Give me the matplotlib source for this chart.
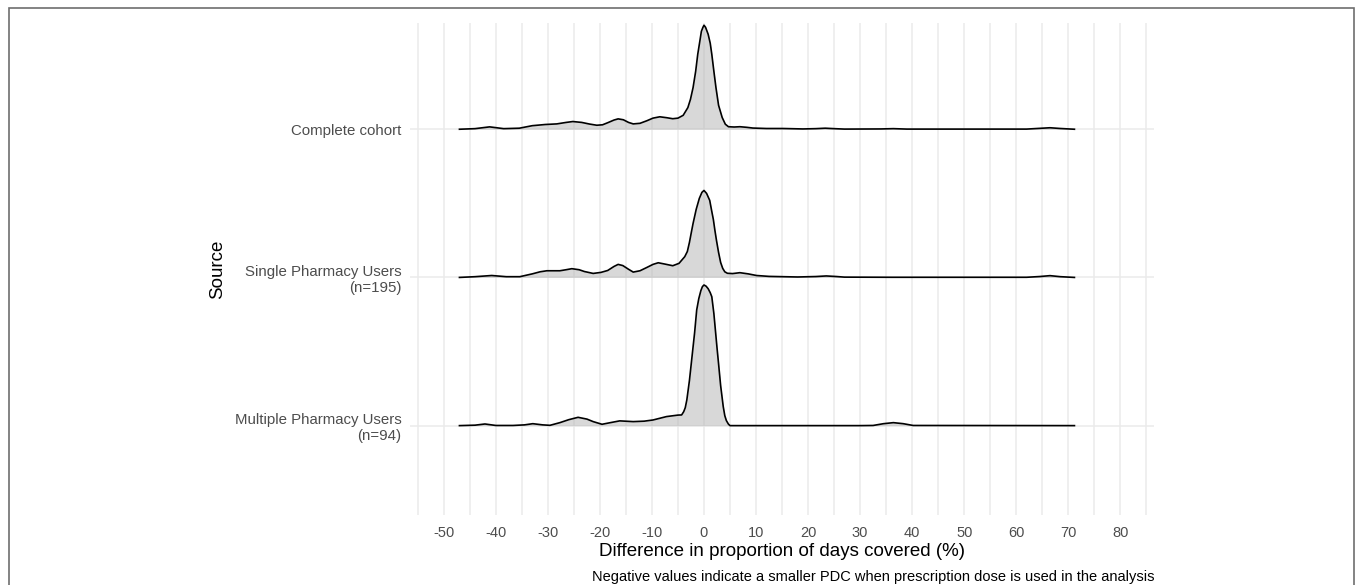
import matplotlib.pyplot as plt
from matplotlib.patches import Rectangle

plt.rcParams['font.family'] = ['Liberation Sans', 'DejaVu Sans']
plt.rcParams['axes.unicode_minus'] = False

# ridge labels, bottom to top
labels = ['Multiple Pharmacy Users\n(n=94)', 'Single Pharmacy Users\n(n=195)', 'Complete cohort']

# density outlines (x in %, height in row units)
complete_x = [-47, -44, -41.2, -38.5, -35.5, -33, -30.5, -28.3, -26.5, -25.2, -23.5, -22, -20.6, -19.5,
              -18.5, -17.3, -16.5, -15.5, -14.5, -13.6, -12.3, -11, -9.8, -8.5, -7.2, -6, -5, -4,
              -3.1, -2.6, -2.1, -1.6, -1.2, -0.8, -0.5, -0.2, 0, 0.3, 0.8, 1.2, 1.5, 1.9, 2.3, 2.8,
              3.5, 4.1, 4.7, 5.8, 6.9, 8.2, 9.4, 12, 15.2, 19, 21.5, 23.3, 25, 27, 34, 36.4, 39, 45,
              62, 64.5, 66.5, 68.5, 71.2]
complete_h = [0, 0.004, 0.016, 0.004, 0.007, 0.024, 0.032, 0.036, 0.046, 0.052, 0.046, 0.035, 0.027, 0.030,
              0.044, 0.062, 0.070, 0.064, 0.046, 0.036, 0.040, 0.057, 0.075, 0.084, 0.078, 0.071, 0.075, 0.094,
              0.146, 0.202, 0.281, 0.391, 0.506, 0.594, 0.661, 0.688, 0.702, 0.688, 0.641, 0.580, 0.506, 0.391,
              0.281, 0.162, 0.079, 0.034, 0.017, 0.015, 0.017, 0.013, 0.008, 0.005, 0.005, 0.002, 0.004, 0.007,
              0.004, 0.001, 0.002, 0.004, 0.001, 0.001, 0.001, 0.006, 0.010, 0.005, 0]

single_x = [-47, -44, -40.8, -38, -35.4, -33, -31.5, -30.2, -27.7, -26.5, -25.4, -24, -23, -21.3,
            -19.8, -18.5, -17.3, -16.5, -15.6, -14.5, -13.6, -12.3, -11, -9.8, -8.8, -7.5, -6, -4.8,
            -3.7, -3.2, -2.8, -2.4, -2.1, -1.5, -0.9, -0.4, 0, 0.5, 1.1, 1.5, 1.8, 2.1, 2.4, 2.8, 3.2,
            3.6, 4, 4.5, 5.5, 6.9, 8.5, 10.1, 12.5, 15.2, 18, 21.5, 23.5, 25.5, 27, 36, 45, 62, 64.5,
            66.5, 68.5, 71.2]
single_h = [0, 0.005, 0.013, 0.005, 0.005, 0.024, 0.038, 0.045, 0.045, 0.052, 0.059, 0.052, 0.040, 0.027,
            0.034, 0.047, 0.074, 0.088, 0.080, 0.055, 0.036, 0.045, 0.067, 0.088, 0.099, 0.090, 0.079, 0.095,
            0.140, 0.175, 0.236, 0.310, 0.364, 0.459, 0.533, 0.574, 0.587, 0.567, 0.520, 0.445, 0.391, 0.317,
            0.250, 0.169, 0.101, 0.061, 0.038, 0.028, 0.026, 0.032, 0.024, 0.013, 0.007, 0.005, 0.003, 0.006,
            0.010, 0.006, 0.002, 0.001, 0.001, 0.001, 0.006, 0.012, 0.005, 0]

multiple_x = [-47, -44, -42.1, -40, -36.7, -34.5, -32.9, -31, -29.6, -27.7, -26, -24.2, -22.5, -21.3,
              -19.6, -18, -16.2, -13.6, -11.5, -9.8, -7.2, -5, -4.3, -3.9, -3.6, -3.3, -2.8, -2.3, -1.8,
              -1.4, -1.0, -0.6, -0.3, 0, 0.4, 0.8, 1.2, 1.5, 1.9, 2.2, 2.5, 2.8, 3.2, 3.7, 4.0, 4.3,
              4.7, 5, 30, 32.5, 34.5, 36.4, 38.3, 40.2, 71.2]
multiple_h = [0, 0.003, 0.011, 0.001, 0.001, 0.005, 0.013, 0.005, 0.002, 0.020, 0.040, 0.056, 0.044, 0.027,
              0.009, 0.020, 0.032, 0.027, 0.030, 0.038, 0.061, 0.071, 0.072, 0.094, 0.121, 0.173, 0.304, 0.466,
              0.628, 0.781, 0.857, 0.911, 0.938, 0.949, 0.941, 0.924, 0.897, 0.870, 0.756, 0.641, 0.526, 0.418,
              0.270, 0.128, 0.067, 0.034, 0.010, 0, 0, 0.001, 0.013, 0.020, 0.013, 0.001, 0]

ridges = [(multiple_x, multiple_h), (single_x, single_h), (complete_x, complete_h)]

fig = plt.figure(figsize=(13.55, 5.85), dpi=100)
ax = fig.add_axes([0.3026, 0.1197, 0.5491, 0.841])

# draw from the top row down so lower ridges sit in front
for i in range(len(ridges) - 1, -1, -1):
    xs, hs = ridges[i]
    base = i + 1
    top = [base + h for h in hs]
    ax.fill_between(xs, base, top, color='#b3b3b3', alpha=0.5, lw=0, zorder=3 + 2 * (3 - i))
    ax.plot(xs, top, color='black', lw=1.2, zorder=4 + 2 * (3 - i), solid_joinstyle='round')

ax.set_xlim(-56.5, 86.5)
ax.set_ylim(0.397, 3.717)
ax.set_xticks(range(-50, 81, 10))
ax.set_xticks(range(-55, 86, 10), minor=True)
ax.set_yticks([1, 2, 3])
ax.set_yticklabels(labels, ha='right', multialignment='right')
ax.grid(True, which='both', color='#ebebeb', lw=1.1, zorder=0)
ax.set_axisbelow(True)
for s in ax.spines.values():
    s.set_visible(False)
ax.tick_params(which='both', length=0)
ax.tick_params(axis='x', pad=8, labelsize=10.5, labelcolor='#4d4d4d')
ax.tick_params(axis='y', pad=6, labelsize=10.8, labelcolor='#4d4d4d')

ax.set_xlabel('Difference in proportion of days covered (%)', fontsize=13.5, labelpad=2)
ax.set_ylabel('Source', fontsize=13.5, labelpad=6)

fig.text(1154 / 1355, 1 - 577 / 585,
         'Negative values indicate a smaller PDC when prescription dose is used in the analysis',
         ha='right', va='center', fontsize=10.5)

# thin frame around the image
fig.add_artist(Rectangle((9 / 1355, -0.1), 1345 / 1355, 1.1 - 8 / 585, transform=fig.transFigure,
                         fill=False, edgecolor='#6e6e6e', lw=1.2))

fig.savefig('out.png', dpi=100)
